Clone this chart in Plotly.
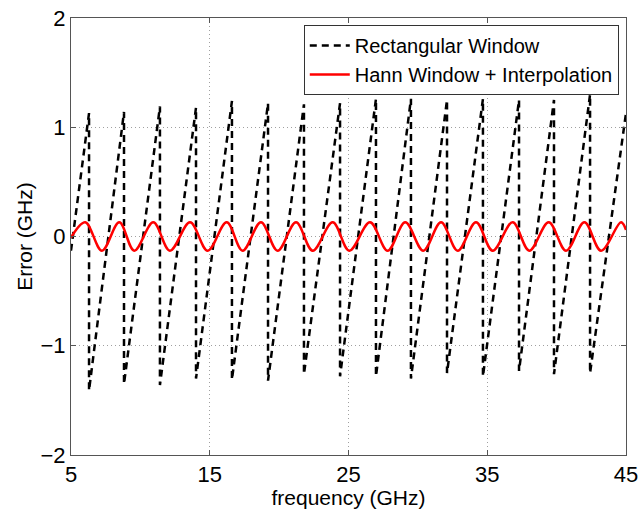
import plotly.graph_objects as go

# ---- data ----
# Rectangular window: sawtooth — frequencies where error drops, peak value before drop, trough after drop
rect_start = (5.0, -0.13)
rect_end = (45.0, 1.13)
rect_drop_f = [6.30, 8.82, 11.41, 14.01, 16.60, 19.20, 21.79, 24.39,
               26.98, 29.50, 32.10, 34.69, 37.29, 39.81, 42.41]
rect_peak = [1.13, 1.14, 1.19, 1.18, 1.24, 1.22, 1.21, 1.22,
             1.26, 1.26, 1.25, 1.26, 1.25, 1.25, 1.30]
rect_trough = [-1.41, -1.35, -1.36, -1.30, -1.31, -1.32, -1.26, -1.28,
               -1.28, -1.30, -1.25, -1.28, -1.23, -1.26, -1.25]

# Hann window + interpolation: extrema of the small ripple
hann_f = [5.0, 6.03, 7.23, 8.48, 9.56, 10.93, 12.13, 13.58, 14.85, 16.22, 17.37,
          18.69, 19.89, 21.22, 22.42, 23.86, 25.06, 26.55, 27.82, 29.09, 30.39,
          31.67, 32.87, 34.19, 35.39, 36.83, 38.03, 39.43, 40.68, 42.0, 43.20,
          44.64, 45.0]
hann_err = [-0.01, 0.13, -0.13, 0.13, -0.13, 0.13, -0.13, 0.13, -0.13, 0.13, -0.13,
            0.13, -0.13, 0.13, -0.13, 0.13, -0.13, 0.13, -0.13, 0.13, -0.13,
            0.13, -0.13, 0.13, -0.13, 0.13, -0.13, 0.13, -0.13, 0.13, -0.13,
            0.13, 0.06]

x_ticks = [5, 15, 25, 35, 45]
y_ticks = [-2, -1, 0, 1, 2]
y_tick_text = ["\u22122", "\u22121", "0", "1", "2"]

# build sawtooth polyline
rx = [rect_start[0]]
ry = [rect_start[1]]
for f, p, t in zip(rect_drop_f, rect_peak, rect_trough):
    rx += [f, f]
    ry += [p, t]
rx.append(rect_end[0])
ry.append(rect_end[1])

FONT = "Liberation Sans, Arial, Helvetica, sans-serif"

fig = go.Figure()
fig.add_trace(go.Scatter(
    x=rx, y=ry, mode="lines", name="Rectangular Window",
    line=dict(color="black", width=2.5, dash="7px,5px"),
))
fig.add_trace(go.Scatter(
    x=hann_f, y=hann_err, mode="lines", name="Hann Window + Interpolation",
    line=dict(color="#ff0000", width=2.5, shape="spline", smoothing=1.0),
))

axis_common = dict(
    showline=True, linecolor="#555555", linewidth=1, mirror="ticks",
    ticks="inside", ticklen=5, tickcolor="#555555",
    showgrid=True, gridcolor="#a0a0a0", griddash="1px,3px", gridwidth=1,
    zeroline=False, automargin=False,
    tickfont=dict(family=FONT, size=22, color="black"),
)

fig.update_xaxes(
    range=[5, 45], tickvals=x_ticks, ticktext=[str(v) for v in x_ticks],
    title=dict(text="frequency (GHz)", font=dict(family=FONT, size=21, color="black"), standoff=0),
    **axis_common,
)
fig.update_yaxes(
    range=[-2, 2], tickvals=y_ticks, ticktext=y_tick_text,
    title=dict(text="Error (GHz)", font=dict(family=FONT, size=21, color="black"), standoff=2),
    **axis_common,
)

fig.update_layout(
    width=639, height=509,
    margin=dict(l=71, r=13, t=18, b=54),
    paper_bgcolor="white", plot_bgcolor="white",
    font=dict(family=FONT, color="black"),
    showlegend=True,
    legend=dict(
        x=0.987, y=0.984, xanchor="right", yanchor="top",
        bgcolor="white", bordercolor="#333333", borderwidth=1,
        font=dict(family=FONT, size=20, color="black"),
        itemwidth=40, tracegroupgap=0,
    ),
)

fig.write_html(
    "out.html",
    config={"displayModeBar": False},
    post_script="document.body.style.margin='0px';document.body.style.overflow='hidden';",
)
